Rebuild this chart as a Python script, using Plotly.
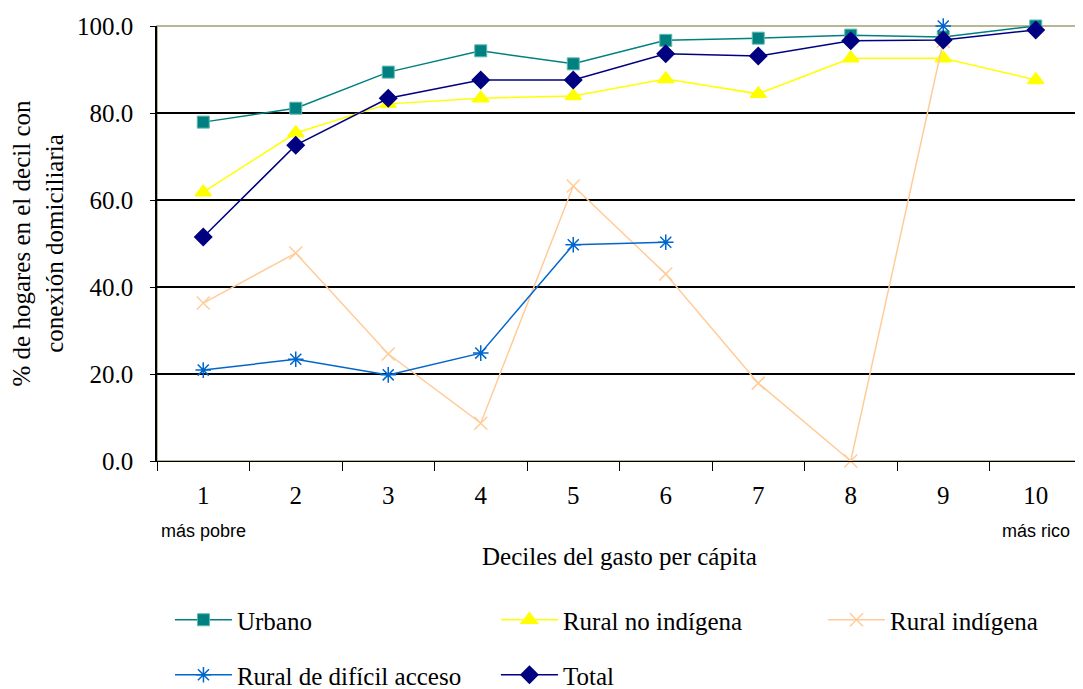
import plotly.graph_objects as go

deciles = ["1", "2", "3", "4", "5", "6", "7", "8", "9", "10"]
urbano = [77.9, 81.1, 89.4, 94.3, 91.3, 96.7, 97.2, 97.9, 97.5, 100.0]
rural_no_ind = [61.8, 75.4, 82.1, 83.4, 83.9, 87.8, 84.4, 92.6, 92.6, 87.6]
rural_ind = [36.3, 47.8, 24.6, 8.7, 63.2, 43.0, 17.9, 0.0, 96.5, None]
rural_dificil = [20.9, 23.4, 19.8, 24.8, 49.7, 50.3, None, None, 100.0, None]
total = [51.5, 72.6, 83.4, 87.6, 87.6, 93.6, 93.1, 96.6, 96.8, 99.1]
y_ticks = [0, 20, 40, 60, 80, 100]

serif = "Times New Roman, Liberation Serif, Times, serif"
sans = "Arial, Liberation Sans, sans-serif"
fs = 25

# page body has an 8px default margin, so the figure is 8px smaller
W, H = 1075, 681

fig = go.Figure()

def add(name, y, color, symbol, size, legend, mline=None, lw=1.5):
    fig.add_trace(go.Scatter(
        x=deciles, y=y, name=name, mode="lines+markers",
        line=dict(color=color, width=lw),
        marker=dict(symbol=symbol, size=size, color=color,
                    line=mline if mline else dict(color=color, width=1.5)),
        connectgaps=False, cliponaxis=False, legend=legend,
    ))

add("Urbano", urbano, "#008080", "square", 12, "legend",
    mline=dict(color="#5fb8b0", width=1))
add("Rural no indígena", rural_no_ind, "#FFFF00", "triangle-up", 14, "legend")
add("Rural indígena", rural_ind, "#FFCC99", "x-thin-open", 13, "legend3")
add("Rural de difícil acceso", rural_dificil, "#0066CC", "asterisk-open", 13, "legend2")
add("Total", total, "#000080", "diamond", 13, "legend2")

leg_common = dict(orientation="h", xanchor="left", yanchor="middle",
                  yref="container", itemwidth=57,
                  font=dict(family=serif, size=fs), bgcolor="rgba(0,0,0,0)")
leg_rows = dict(entrywidth=254, entrywidthmode="pixels", **leg_common)

row1 = (H - (620 - 8)) / H
row2 = (H - (675 - 8)) / H

fig.update_layout(
    width=W, height=H,
    margin=dict(l=149, r=1, t=18, b=228),
    paper_bgcolor="white", plot_bgcolor="white",
    font=dict(family=serif, size=fs, color="black"),
    showlegend=True,
    legend=dict(x=0.014, y=row1, **leg_rows),
    legend2=dict(x=0.014, y=row2, **leg_rows),
    legend3=dict(x=0.72, y=row1, **leg_common),
    xaxis=dict(
        type="category", tickson="boundaries", ticks="outside", ticklen=9,
        tickcolor="black", showline=True, linecolor="black", linewidth=1,
        range=[-0.5, 9.5], automargin=False,
        showgrid=False, tickfont=dict(family=serif, size=fs),
        ticklabelstandoff=12,
        title=dict(text="Deciles del gasto per cápita",
                   font=dict(family=serif, size=fs), standoff=39),
    ),
    yaxis=dict(
        range=[0, 100], tickvals=y_ticks, tickformat=".1f",
        ticks="outside", ticklen=5, tickcolor="black", automargin=False,
        showline=True, linecolor="black", linewidth=1.5,
        showgrid=True, gridcolor="black", gridwidth=1.5,
        zeroline=False, tickfont=dict(family=serif, size=fs),
        ticklabelstandoff=12,
        title=dict(text="% de hogares en el decil con<br>conexión domiciliaria",
                   font=dict(family=serif, size=fs), standoff=10),
    ),
    shapes=[dict(type="rect", xref="paper", yref="paper", x0=0, x1=1, y0=0, y1=1,
                 line=dict(color="#a0a070", width=1.5), layer="below")],
    annotations=[
        dict(text="más pobre", x=0, y=0, xref="x", yref="paper", yshift=-70,
             yanchor="middle", showarrow=False, font=dict(family=sans, size=18)),
        dict(text="más rico", x=9, y=0, xref="x", yref="paper", yshift=-70,
             yanchor="middle", showarrow=False, font=dict(family=sans, size=18)),
    ],
)

fig.write_html("out.html")
